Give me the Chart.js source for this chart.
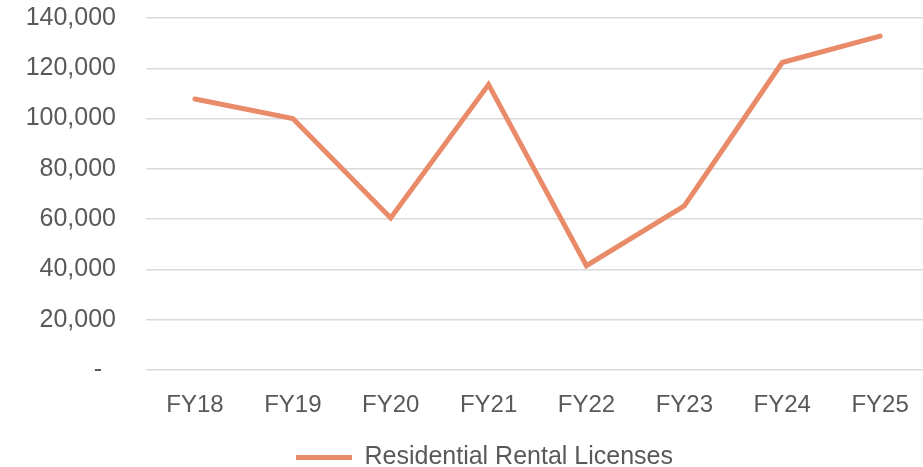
<!DOCTYPE html>
<html>
<head>
<meta charset="utf-8">
<script src="https://cdn.jsdelivr.net/npm/chart.js@4"></script>
<style>
  html, body { margin: 0; padding: 0; background: #fff; overflow: hidden; }
  #wrap { width: 923px; height: 467px; overflow: hidden; }
  canvas { display: block; }
</style>
</head>
<body>
<div id="wrap"><canvas id="c" width="930" height="467" style="width:930px;height:467px"></canvas></div>
<script>
const categories = ['FY18', 'FY19', 'FY20', 'FY21', 'FY22', 'FY23', 'FY24', 'FY25'];
const seriesName = 'Residential Rental Licenses';
const licenses = [107800, 100000, 60500, 113500, 41500, 65300, 122300, 132800];
const yTicks = [0, 20000, 40000, 60000, 80000, 100000, 120000, 140000];

const lineColor = '#E98B69';
const textColor = '#595959';
const fontFamily = '"Liberation Sans", Arial, Helvetica, sans-serif';

// small nudge of the legend block (centred a bit right of the canvas centre, lower)
const legendNudge = {
  id: 'legendNudge',
  afterLayout(chart) {
    const lg = chart.legend;
    if (!lg) return;
    lg.left += 20; lg.right += 20;
    lg.top += 13; lg.bottom += 13;
  }
};

new Chart(document.getElementById('c'), {
  type: 'line',
  data: {
    labels: categories,
    datasets: [{
      label: seriesName,
      data: licenses,
      borderColor: lineColor,
      backgroundColor: lineColor,
      borderWidth: 5,
      pointRadius: 0,
      pointHoverRadius: 0,
      tension: 0,
      borderCapStyle: 'round',
      borderJoinStyle: 'miter'
    }]
  },
  plugins: [legendNudge],
  options: {
    responsive: false,
    maintainAspectRatio: false,
    animation: false,
    devicePixelRatio: 1,
    layout: { padding: { left: 0, right: 1, top: 18, bottom: 0 } },
    plugins: {
      tooltip: { enabled: false },
      legend: {
        position: 'bottom',
        labels: {
          color: textColor,
          font: { family: fontFamily, size: 25 },
          boxWidth: 56,
          boxHeight: 5,
          padding: 12,
          generateLabels: (chart) => chart.data.datasets.map((ds, i) => ({
            text: ds.label,
            fillStyle: ds.borderColor,
            strokeStyle: ds.borderColor,
            lineWidth: 0,
            datasetIndex: i,
            fontColor: textColor
          }))
        }
      }
    },
    scales: {
      x: {
        offset: true,
        grid: { display: false },
        border: { display: false },
        ticks: {
          color: textColor,
          font: { family: fontFamily, size: 24 },
          padding: 13,
          maxRotation: 0
        },
        afterFit: (s) => { s.height = 50; s.paddingLeft = 0; s.paddingRight = 0; }
      },
      y: {
        min: 0,
        max: 140000,
        afterBuildTicks: (s) => { s.ticks = yTicks.map(v => ({ value: v })); },
        grid: { color: '#D9D9D9', lineWidth: 1.5, drawTicks: false },
        border: { display: false },
        ticks: {
          color: textColor,
          font: { family: fontFamily, size: 25 },
          padding: 30,
          callback: (v) => v === 0 ? '-  ' : v.toLocaleString('en-US')
        },
        afterFit: (s) => { s.width = 146; s.paddingTop = 0; s.paddingBottom = 0; }
      }
    }
  }
});
</script>
</body>
</html>
